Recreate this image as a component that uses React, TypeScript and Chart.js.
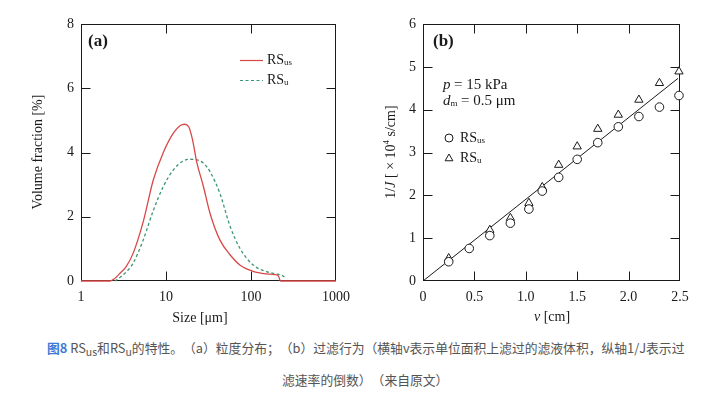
import React, { useEffect, useRef } from 'react';
import { Chart, registerables } from 'chart.js';
Chart.register(...registerables);

const SERIF = '"Liberation Serif", "Times New Roman", serif';
const f = (size: number, style = '') => `${style} ${size}px ${SERIF}`.trim();

// ---- Chart (a): particle size distribution ----
const sizeTicks = [1, 10, 100, 1000];
const fracTicks = [0, 2, 4, 6, 8];
const sizeUS = [1, 2.2, 2.5, 2.9, 3.4, 4.1, 5.4, 7.1, 9.3, 12.2, 14.6, 16.5, 18.5, 20.5, 23, 27.5, 33, 43, 57, 74, 106, 152, 190, 210, 222, 1000];
const fracUS = [0, 0, 0.08, 0.25, 0.45, 0.86, 1.85, 3.15, 4.0, 4.6, 4.83, 4.88, 4.8, 4.4, 3.7, 2.95, 2.1, 1.28, 0.81, 0.5, 0.3, 0.22, 0.2, 0.16, 0, 0];
const sizeU = [2.5, 3, 3.6, 4.1, 5.4, 7.1, 9.3, 12.2, 16, 19, 23, 27.5, 33, 43, 57, 74, 106, 152, 200, 240, 255];
const fracU = [0, 0.15, 0.35, 0.55, 1.28, 2.2, 2.94, 3.46, 3.74, 3.79, 3.77, 3.67, 3.4, 2.73, 1.69, 1.02, 0.5, 0.29, 0.22, 0.15, 0.08];

// ---- Chart (b): filtration behaviour ----
const vTicks = [0, 0.5, 1.0, 1.5, 2.0, 2.5];
const jTicks = [0, 1, 2, 3, 4, 5, 6];
const vUS = [0.25, 0.45, 0.65, 0.85, 1.03, 1.16, 1.32, 1.5, 1.7, 1.9, 2.1, 2.3, 2.49];
const jUS = [0.45, 0.76, 1.06, 1.35, 1.68, 2.1, 2.42, 2.84, 3.23, 3.6, 3.84, 4.06, 4.33];
const vU = [0.25, 0.65, 0.85, 1.03, 1.16, 1.32, 1.5, 1.7, 1.9, 2.1, 2.3, 2.49];
const jU = [0.53, 1.19, 1.47, 1.82, 2.19, 2.71, 3.14, 3.55, 3.88, 4.23, 4.62, 4.89];
const fitV = [0, 2.48];
const fitJ = [0, 4.73];

const RED = '#d94848';
const GREEN = '#3a9670';
const INK = '#1a1a1a';

type Part = { t: string; font: string; dy?: number };
function drawParts(ctx: CanvasRenderingContext2D, parts: Part[], x: number, y: number, align: 'left' | 'center') {
  ctx.textBaseline = 'middle';
  ctx.textAlign = 'left';
  let total = 0;
  for (const p of parts) { ctx.font = p.font; total += ctx.measureText(p.t).width; }
  let cx = align === 'center' ? x - total / 2 : x;
  for (const p of parts) {
    ctx.font = p.font;
    ctx.fillText(p.t, cx, y + (p.dy || 0));
    cx += ctx.measureText(p.t).width;
  }
}

function drawFrame(chart: any, xInner: number[], yInner: number[]) {
  const { ctx, chartArea: a, scales } = chart;
  ctx.save();
  ctx.strokeStyle = INK;
  ctx.lineWidth = 1;
  const L = Math.round(a.left) + 0.5, R = Math.round(a.right) - 0.5;
  const T = Math.round(a.top) + 0.5, B = Math.round(a.bottom) - 0.5;
  ctx.strokeRect(L, T, R - L, B - T);
  const len = 9;
  ctx.beginPath();
  for (const v of xInner) {
    const px = Math.round(scales.x.getPixelForValue(v)) + 0.5;
    ctx.moveTo(px, B); ctx.lineTo(px, B - len);
    ctx.moveTo(px, T); ctx.lineTo(px, T + len);
  }
  for (const v of yInner) {
    const py = Math.round(scales.y.getPixelForValue(v)) + 0.5;
    ctx.moveTo(L, py); ctx.lineTo(L + len, py);
    ctx.moveTo(R, py); ctx.lineTo(R - len, py);
  }
  ctx.stroke();
  ctx.restore();
}

function pts(xs: number[], ys: number[]) {
  return xs.map((x, i) => ({ x, y: ys[i] }));
}

const tickFont = { family: SERIF, size: 14 };

export default function App() {
  const refA = useRef<HTMLCanvasElement>(null);
  const refB = useRef<HTMLCanvasElement>(null);

  useEffect(() => {
    const plugA = {
      id: 'decorA',
      beforeDatasetsDraw(chart: any) {
        drawFrame(chart, [10, 100], [2, 4, 6]);
      },
      afterDraw(chart: any) {
        const ctx: CanvasRenderingContext2D = chart.ctx;
        ctx.save();
        ctx.fillStyle = INK;
        ctx.save();
        ctx.translate(38, 152);
        ctx.rotate(-Math.PI / 2);
        drawParts(ctx, [{ t: 'Volume fraction [%]', font: f(14) }], 0, 0, 'center');
        ctx.restore();
        drawParts(ctx, [{ t: 'Size [μm]', font: f(14) }], 200, 318, 'center');
        drawParts(ctx, [{ t: '(a)', font: f(17, 'bold') }], 88, 42, 'left');
        ctx.lineWidth = 1.2;
        ctx.strokeStyle = RED;
        ctx.beginPath(); ctx.moveTo(240, 60.5); ctx.lineTo(263, 60.5); ctx.stroke();
        ctx.strokeStyle = GREEN;
        ctx.setLineDash([3, 2.5]);
        ctx.beginPath(); ctx.moveTo(240, 80.5); ctx.lineTo(263, 80.5); ctx.stroke();
        ctx.setLineDash([]);
        drawParts(ctx, [{ t: 'RS', font: f(14) }, { t: 'us', font: f(9), dy: 3 }], 267, 60, 'left');
        drawParts(ctx, [{ t: 'RS', font: f(14) }, { t: 'u', font: f(9), dy: 3 }], 267, 80, 'left');
        ctx.restore();
      },
    };

    const chartA = new Chart(refA.current as HTMLCanvasElement, {
      type: 'line',
      data: {
        datasets: [
          {
            label: 'RSus',
            data: pts(sizeUS, fracUS),
            borderColor: RED,
            borderWidth: 1.3,
            pointRadius: 0,
            cubicInterpolationMode: 'monotone',
            fill: false,
            clip: 3,
          },
          {
            label: 'RSu',
            data: pts(sizeU, fracU),
            borderColor: GREEN,
            borderWidth: 1.3,
            borderDash: [3, 2.5],
            pointRadius: 0,
            cubicInterpolationMode: 'monotone',
            fill: false,
            clip: 3,
          },
        ],
      },
      options: {
        responsive: false,
        animation: false,
        parsing: false,
        layout: { padding: { left: 0, top: 24, right: 24, bottom: 0 } },
        plugins: { legend: { display: false }, tooltip: { enabled: false } },
        scales: {
          x: {
            type: 'logarithmic',
            min: 1,
            max: 1000,
            grid: { display: false, drawTicks: false },
            border: { display: false },
            afterBuildTicks: (s: any) => { s.ticks = sizeTicks.map((v) => ({ value: v })); },
            afterFit: (s: any) => { s.height = 49; },
            ticks: {
              color: INK,
              font: tickFont,
              padding: 8,
              maxRotation: 0,
              autoSkip: false,
              callback: (v: any) => String(v),
            },
          },
          y: {
            type: 'linear',
            min: 0,
            max: 8,
            grid: { display: false, drawTicks: false },
            border: { display: false },
            afterBuildTicks: (s: any) => { s.ticks = fracTicks.map((v) => ({ value: v })); },
            afterFit: (s: any) => { s.width = 81; },
            ticks: { color: INK, font: tickFont, padding: 7, callback: (v: any) => String(v) },
          },
        },
      } as any,
      plugins: [plugA],
    } as any);

    const plugB = {
      id: 'decorB',
      beforeDatasetsDraw(chart: any) {
        drawFrame(chart, [0.5, 1.0, 1.5, 2.0], [1, 2, 3, 4, 5]);
      },
      afterDraw(chart: any) {
        const ctx: CanvasRenderingContext2D = chart.ctx;
        ctx.save();
        ctx.fillStyle = INK;
        ctx.save();
        ctx.translate(31, 152);
        ctx.rotate(-Math.PI / 2);
        drawParts(ctx, [
          { t: '1/', font: f(14) },
          { t: 'J', font: f(14, 'italic') },
          { t: ' [ × 10', font: f(14) },
          { t: '4', font: f(9), dy: -4 },
          { t: ' s/cm]', font: f(14) },
        ], 0, 0, 'center');
        ctx.restore();
        drawParts(ctx, [{ t: 'v', font: f(14, 'italic') }, { t: ' [cm]', font: f(14) }], 192, 317, 'center');
        drawParts(ctx, [{ t: '(b)', font: f(17, 'bold') }], 73, 42, 'left');
        drawParts(ctx, [{ t: 'p', font: f(15, 'italic') }], 83, 85, 'left');
        drawParts(ctx, [{ t: '= 15 kPa', font: f(15) }], 94, 85, 'left');
        drawParts(ctx, [{ t: 'd', font: f(15, 'italic') }, { t: 'm', font: f(9), dy: 3 }], 83, 101, 'left');
        drawParts(ctx, [{ t: '= 0.5 μm', font: f(15) }], 101, 101, 'left');
        ctx.strokeStyle = INK;
        ctx.lineWidth = 1;
        ctx.beginPath(); ctx.arc(89, 138, 4, 0, Math.PI * 2); ctx.stroke();
        const r = 4.5, cx = 89, cy = 158.5;
        ctx.beginPath();
        ctx.moveTo(cx, cy - r);
        ctx.lineTo(cx + r * 0.866, cy + r / 2);
        ctx.lineTo(cx - r * 0.866, cy + r / 2);
        ctx.closePath();
        ctx.stroke();
        drawParts(ctx, [{ t: 'RS', font: f(14) }, { t: 'us', font: f(9), dy: 3 }], 100, 138, 'left');
        drawParts(ctx, [{ t: 'RS', font: f(14) }, { t: 'u', font: f(9), dy: 3 }], 100, 158, 'left');
        ctx.restore();
      },
    };

    const chartB = new Chart(refB.current as HTMLCanvasElement, {
      type: 'scatter',
      data: {
        datasets: [
          {
            label: 'RSus',
            data: pts(vUS, jUS),
            pointStyle: 'circle',
            pointRadius: 4.3,
            borderColor: INK,
            borderWidth: 1,
            backgroundColor: '#ffffff',
            clip: 8,
          },
          {
            label: 'RSu',
            data: pts(vU, jU),
            pointStyle: 'triangle',
            pointRadius: 4.8,
            borderColor: INK,
            borderWidth: 1,
            backgroundColor: '#ffffff',
            clip: 8,
          },
          {
            type: 'line',
            label: 'fit',
            data: pts(fitV, fitJ),
            borderColor: INK,
            borderWidth: 1,
            pointRadius: 0,
            fill: false,
          },
        ],
      },
      options: {
        responsive: false,
        animation: false,
        layout: { padding: { left: 0, top: 24, right: 47, bottom: 0 } },
        plugins: { legend: { display: false }, tooltip: { enabled: false } },
        scales: {
          x: {
            type: 'linear',
            min: 0,
            max: 2.5,
            grid: { display: false, drawTicks: false },
            border: { display: false },
            afterBuildTicks: (s: any) => { s.ticks = vTicks.map((v) => ({ value: v })); },
            afterFit: (s: any) => { s.height = 49; },
            ticks: {
              color: INK,
              font: tickFont,
              padding: 8,
              maxRotation: 0,
              autoSkip: false,
              callback: (v: any) => (v === 0 ? '0' : Number(v).toFixed(1)),
            },
          },
          y: {
            type: 'linear',
            min: 0,
            max: 6,
            grid: { display: false, drawTicks: false },
            border: { display: false },
            afterBuildTicks: (s: any) => { s.ticks = jTicks.map((v) => ({ value: v })); },
            afterFit: (s: any) => { s.width = 63; },
            ticks: { color: INK, font: tickFont, padding: 7, callback: (v: any) => String(v) },
          },
        },
      } as any,
      plugins: [plugB],
    } as any);

    return () => { chartA.destroy(); chartB.destroy(); };
  }, []);

  const subStyle: React.CSSProperties = { fontSize: 10.5, verticalAlign: '-3px', lineHeight: 0 };
  const capStyle: any = {
    position: 'absolute', left: 0, top: 338, width: 727,
    fontFamily: '"Noto Sans CJK SC", "Noto Sans", sans-serif', fontSize: 12.8,
    color: '#555555', lineHeight: '20px', textSpacingTrim: 'space-all',
  };

  return (
    <div style={{ position: 'absolute', left: 0, top: 0, width: 727, height: 397, background: '#ffffff', overflow: 'hidden' }}>
      <canvas ref={refA} width={360} height={330} style={{ position: 'absolute', left: 0, top: 0, width: 360, height: 330 }} />
      <canvas ref={refB} width={367} height={330} style={{ position: 'absolute', left: 360, top: 0, width: 367, height: 330 }} />
      <div style={capStyle}>
        <div style={{ position: 'absolute', left: 47, top: 0, whiteSpace: 'nowrap' }}>
          <span style={{ color: '#3d7ad6', fontWeight: 'bold' }}>图8</span> RS<span style={subStyle}>us</span>和RS<span style={subStyle}>u</span>的特性。（a）粒度分布；（b）过滤行为（横轴v表示单位面积上滤过的滤液体积，纵轴1/J表示过
        </div>
        <div style={{ position: 'absolute', left: 282, top: 32, whiteSpace: 'nowrap' }}>
          滤速率的倒数）（来自原文）
        </div>
      </div>
    </div>
  );
}
